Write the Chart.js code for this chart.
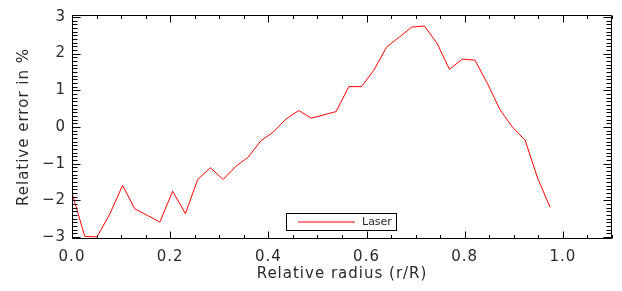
<!DOCTYPE html>
<html>
<head>
<meta charset="utf-8">
<script src="https://cdn.jsdelivr.net/npm/chart.js@4/dist/chart.umd.min.js"></script>
<style>
html,body{margin:0;padding:0;background:#fff;}
#wrap{width:622px;height:291px;}
</style>
</head>
<body>
<div id="wrap"><canvas id="c" width="622" height="291"></canvas></div>
<script>
// ---- data ----
const radius = [0.000,0.026,0.051,0.077,0.103,0.128,0.154,0.179,0.205,0.231,0.256,0.282,0.308,0.333,0.359,0.385,0.410,0.436,0.462,0.487,0.513,0.538,0.564,0.590,0.615,0.641,0.667,0.692,0.718,0.744,0.769,0.795,0.821,0.846,0.872,0.897,0.923,0.949,0.974];
const laserError = [-1.79,-2.98,-2.99,-2.37,-1.59,-2.23,-2.41,-2.59,-1.75,-2.36,-1.43,-1.11,-1.43,-1.08,-0.82,-0.37,-0.14,0.22,0.45,0.24,0.33,0.42,1.10,1.10,1.55,2.18,2.45,2.72,2.75,2.27,1.57,1.85,1.82,1.19,0.47,0.00,-0.36,-1.41,-2.19];
const seriesName = 'Laser';
const xTickValues = [0.0,0.2,0.4,0.6,0.8,1.0];
const yTickValues = [-3,-2,-1,0,1,2,3];
const xTitle = 'Relative radius (r/R)';
const yTitle = 'Relative error in %';

const FONT = "'DejaVu Sans', sans-serif";
const TXT = '#2a2a2a';

const spacingPlugin = {
  id: 'spacing',
  beforeInit(chart) { chart.ctx.letterSpacing = '1px'; },
  beforeUpdate(chart) { chart.ctx.letterSpacing = '1px'; },
  beforeDraw(chart) { chart.ctx.letterSpacing = '1px'; }
};

const framePlugin = {
  id: 'frame',
  afterDraw(chart) {
    const ctx = chart.ctx, ca = chart.chartArea;
    const xs = chart.scales.x, ys = chart.scales.y;
    ctx.save();
    ctx.strokeStyle = '#000';
    ctx.lineWidth = 1;
    const L = Math.round(ca.left)+0.5, R = Math.round(ca.right)-0.5;
    const T = Math.round(ca.top)+0.5, B = Math.round(ca.bottom)-0.5;
    ctx.beginPath();
    ctx.rect(L, T, R-L, B-T);
    ctx.stroke();
    ctx.beginPath();
    // x ticks: minor every 0.05, major every 0.2
    for (let k = 0; k <= 22; k++) {
      const v = k*0.05;
      const px = Math.round(xs.getPixelForValue(v))+0.5;
      const major = (k % 4 === 0);
      const len = major ? 7 : 3.5;
      ctx.moveTo(px, B); ctx.lineTo(px, B-len);
      ctx.moveTo(px, T); ctx.lineTo(px, T+len);
    }
    // y ticks: minor every 0.1, major every 1
    for (let k = -30; k <= 30; k++) {
      const v = k*0.1;
      const py = Math.round(ys.getPixelForValue(v))+0.5;
      const major = (k % 10 === 0);
      const len = major ? 8 : 5;
      ctx.moveTo(L, py); ctx.lineTo(L+len, py);
      ctx.moveTo(R, py); ctx.lineTo(R-len, py);
    }
    ctx.stroke();
    // legend box inside the plot
    const ds = chart.data.datasets[0];
    const bx = 286.5, by = 213.5, bw = 110, bh = 17;
    ctx.fillStyle = '#fff';
    ctx.fillRect(bx, by, bw, bh);
    ctx.strokeStyle = '#000';
    ctx.strokeRect(bx, by, bw, bh);
    ctx.beginPath();
    ctx.strokeStyle = ds.borderColor;
    ctx.lineWidth = 1;
    ctx.moveTo(298, by+bh/2); ctx.lineTo(355, by+bh/2);
    ctx.stroke();
    ctx.fillStyle = TXT;
    ctx.letterSpacing = '0px';
    ctx.font = "11px " + FONT;
    ctx.textBaseline = 'middle';
    ctx.textAlign = 'left';
    ctx.fillText(ds.label, 362, by+bh/2+0.5);
    ctx.restore();
  }
};

new Chart(document.getElementById('c'), {
  type: 'scatter',
  data: {
    datasets: [{
      label: seriesName,
      data: radius.map((r,i)=>({x:r, y:laserError[i]})),
      showLine: true,
      borderColor: '#ff0000',
      borderWidth: 1,
      pointRadius: 0,
      tension: 0,
      fill: false
    }]
  },
  options: {
    responsive: false,
    animation: false,
    devicePixelRatio: 1,
    layout: { padding: { left: 0, top: 13, right: 10, bottom: 0 } },
    plugins: { legend: { display: false }, tooltip: { enabled: false } },
    scales: {
      x: {
        type: 'linear', min: 0, max: 1.1,
        grid: { display: false, drawTicks: false },
        border: { display: false },
        afterFit(s) { s.height = 52; },
        afterBuildTicks(s) { s.ticks = xTickValues.map(v=>({value:v})); },
        ticks: {
          padding: 9, color: TXT, maxRotation: 0,
          font: { family: FONT, size: 15 },
          callback: v => Number(v).toFixed(1)
        },
        title: { display: true, text: xTitle, color: TXT,
          font: { family: FONT, size: 15 }, padding: { top: 0, bottom: 8 } }
      },
      y: {
        type: 'linear', min: -3.05, max: 3.05,
        grid: { display: false, drawTicks: false },
        border: { display: false },
        afterFit(s) { s.width = 72; },
        afterBuildTicks(s) { s.ticks = yTickValues.map(v=>({value:v})); },
        ticks: {
          padding: 6, color: TXT,
          font: { family: FONT, size: 15 },
          callback: v => (v < 0 ? '\u2212' + Math.abs(v) : String(v))
        },
        title: { display: true, text: yTitle, color: TXT,
          font: { family: FONT, size: 15 }, padding: { top: 15, bottom: 0 } }
      }
    }
  },
  plugins: [spacingPlugin, framePlugin]
});
</script>
</body>
</html>
